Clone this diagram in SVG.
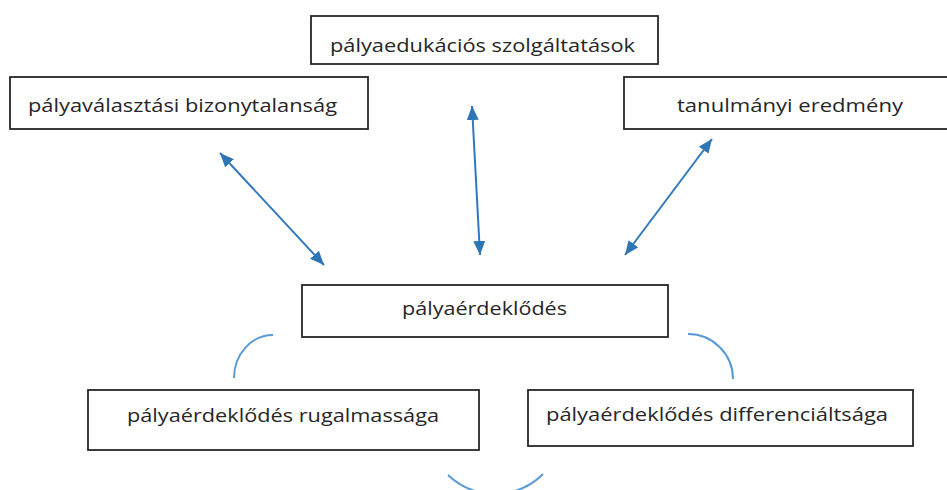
<svg xmlns="http://www.w3.org/2000/svg" width="947" height="490" viewBox="0 0 947 490">
<style>
.box{fill:#fff;stroke:#262626;stroke-width:1.8}
.lbl{font-family:"Open Sans","Liberation Sans",sans-serif;font-size:19px;fill:#262626}
.arr{fill:none;stroke:#3278BE;stroke-width:2}
.arc{fill:none;stroke:#5B9BD5;stroke-width:2}
</style>
<defs>
<marker id="ah" markerUnits="userSpaceOnUse" markerWidth="14" markerHeight="12" refX="14" refY="6" orient="auto-start-reverse" viewBox="0 0 14 12">
<path d="M0,0 L14,6 L0,12 z" fill="#2E75B6"/>
</marker>
</defs>
<rect width="947" height="490" fill="#fff"/>
<g id="connectors">
<line class="arr" x1="220" y1="153" x2="324" y2="265" marker-start="url(#ah)" marker-end="url(#ah)"/>
<line class="arr" x1="472" y1="106" x2="480" y2="255" marker-start="url(#ah)" marker-end="url(#ah)"/>
<line class="arr" x1="712" y1="139" x2="625" y2="255" marker-start="url(#ah)" marker-end="url(#ah)"/>
<path class="arc" d="M273,335 A39,43 0 0 0 234,378"/>
<path class="arc" d="M688,334 A45,45 0 0 1 733,379"/>
<path class="arc" d="M448,475 A68,68 0 0 0 543,474"/>
</g>
<g id="node-edukacio">
<rect class="box" x="311" y="16" width="347" height="48"/>
<text class="lbl" x="330" y="52" textLength="305" lengthAdjust="spacingAndGlyphs">pályaedukációs szolgáltatások</text>
</g>
<g id="node-bizonytalansag">
<rect class="box" x="10" y="77" width="358" height="52"/>
<text class="lbl" x="28" y="112" textLength="309" lengthAdjust="spacingAndGlyphs">pályaválasztási bizonytalanság</text>
</g>
<g id="node-tanulmanyi">
<rect class="box" x="624" y="77" width="330" height="52"/>
<text class="lbl" x="677" y="112" textLength="226" lengthAdjust="spacingAndGlyphs">tanulmányi eredmény</text>
</g>
<g id="node-erdeklodes">
<rect class="box" x="302" y="285" width="366" height="52"/>
<text class="lbl" x="402" y="315" textLength="165" lengthAdjust="spacingAndGlyphs">pályaérdeklődés</text>
</g>
<g id="node-rugalmassag">
<rect class="box" x="88" y="390" width="391" height="60"/>
<text class="lbl" x="127" y="422" textLength="312" lengthAdjust="spacingAndGlyphs">pályaérdeklődés rugalmassága</text>
</g>
<g id="node-differencialtsag">
<rect class="box" x="528" y="390" width="385" height="56"/>
<text class="lbl" x="546" y="421" textLength="342" lengthAdjust="spacingAndGlyphs">pályaérdeklődés differenciáltsága</text>
</g>
</svg>
